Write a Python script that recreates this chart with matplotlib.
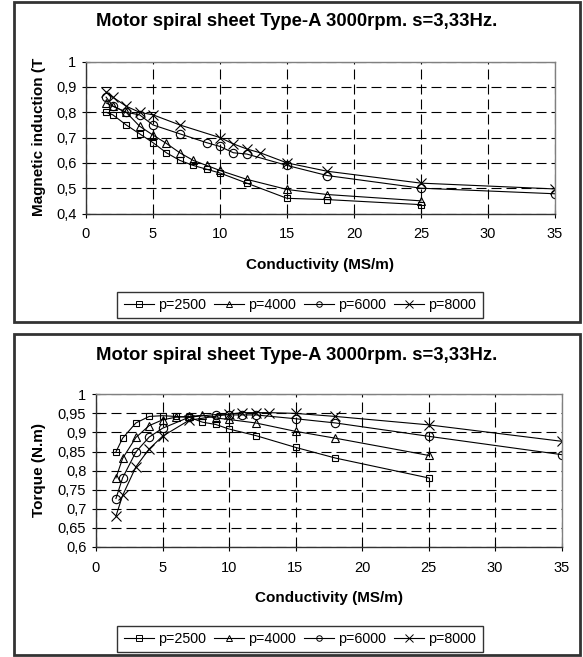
import matplotlib.pyplot as plt
from matplotlib.patches import Rectangle
from matplotlib.lines import Line2D

# ---- data ----
title = 'Motor spiral sheet Type-A 3000rpm. s=3,33Hz.'
labels = ['p=2500', 'p=4000', 'p=6000', 'p=8000']
markers = ['s', '^', 'o', 'x']
msizes = [5, 5.5, 6, 7.5]

# top chart: magnetic induction
b_x_2500 = [1.5, 2, 3, 4, 5, 6, 7, 8, 9, 10, 12, 15, 18, 25]
b_y_2500 = [0.80, 0.79, 0.75, 0.715, 0.68, 0.64, 0.61, 0.59, 0.575, 0.56, 0.52, 0.46, 0.455, 0.435]
b_x_4000 = [1.5, 2, 3, 4, 5, 6, 7, 8, 9, 10, 12, 15, 18, 25]
b_y_4000 = [0.837, 0.824, 0.80, 0.745, 0.71, 0.677, 0.64, 0.61, 0.59, 0.57, 0.535, 0.495, 0.475, 0.45]
b_x_6000 = [1.5, 2, 3, 4, 5, 7, 9, 10, 11, 12, 15, 18, 25, 35]
b_y_6000 = [0.86, 0.825, 0.80, 0.79, 0.75, 0.715, 0.68, 0.665, 0.64, 0.635, 0.59, 0.55, 0.50, 0.478]
b_x_8000 = [1.5, 2, 3, 4, 5, 7, 10, 11, 12, 13, 15, 18, 25, 35]
b_y_8000 = [0.88, 0.86, 0.824, 0.80, 0.79, 0.75, 0.70, 0.675, 0.655, 0.64, 0.60, 0.567, 0.52, 0.497]

# bottom chart: torque
t_x_2500 = [1.5, 2, 3, 4, 5, 6, 7, 8, 9, 10, 12, 15, 18, 25]
t_y_2500 = [0.849, 0.885, 0.925, 0.942, 0.944, 0.942, 0.94, 0.927, 0.921, 0.909, 0.892, 0.861, 0.833, 0.781]
t_x_4000 = [1.5, 2, 3, 4, 5, 6, 7, 8, 9, 10, 12, 15, 18, 25]
t_y_4000 = [0.781, 0.832, 0.887, 0.918, 0.933, 0.94, 0.942, 0.945, 0.938, 0.934, 0.925, 0.903, 0.885, 0.84]
t_x_6000 = [1.5, 2, 3, 4, 5, 7, 9, 10, 11, 12, 15, 18, 25, 35]
t_y_6000 = [0.727, 0.781, 0.849, 0.888, 0.911, 0.94, 0.947, 0.946, 0.946, 0.946, 0.936, 0.925, 0.89, 0.842]
t_x_8000 = [1.5, 2, 3, 4, 5, 7, 10, 11, 12, 13, 15, 18, 25, 35]
t_y_8000 = [0.681, 0.735, 0.81, 0.857, 0.89, 0.932, 0.948, 0.952, 0.952, 0.952, 0.95, 0.942, 0.92, 0.877]

plt.rcParams.update({'font.family': ['Liberation Sans', 'DejaVu Sans']})

W, H = 583, 657
fig = plt.figure(figsize=(W / 100, H / 100), dpi=100)


def fx(px):
    return px / W


def fy(py):
    return 1 - py / H


def comma(v):
    return ('%g' % round(v, 2)).replace('.', ',')


def draw_chart(box, ax_px, xs, ys, yticks, ylim, ylabel, ylabel_y, ylabel_va,
               title_y, xlabel_y, legend_y):
    # outer frame round each chart
    x0, y0, x1, y1 = box
    fig.patches.append(Rectangle((fx(x0), fy(y1)), fx(x1 - x0), (y1 - y0) / H,
                                 transform=fig.transFigure, fill=False,
                                 edgecolor='#333333', linewidth=2))
    l, t, r, b = ax_px
    ax = fig.add_axes([fx(l), fy(b), fx(r - l), (b - t) / H])
    for x, y, m, ms, lab in zip(xs, ys, markers, msizes, labels):
        ax.plot(x, y, color='black', linewidth=0.8, marker=m, markersize=ms,
                markerfacecolor='none', markeredgecolor='black',
                markeredgewidth=0.8, label=lab)
    ax.set_xlim(0, 35)
    ax.set_ylim(*ylim)
    ax.set_xticks(range(0, 36, 5))
    ax.set_yticks(yticks)
    ax.set_yticklabels([comma(v) for v in yticks])
    ax.grid(True, color='black', linestyle=(0, (9, 4.5)), linewidth=0.8)
    for s in ['top', 'right']:
        ax.spines[s].set_color('#808080')
        ax.spines[s].set_linewidth(1.0)
    for s in ['left', 'bottom']:
        ax.spines[s].set_color('#333333')
        ax.spines[s].set_linewidth(1.0)
    ax.tick_params(direction='inout', length=6, width=0.8, labelsize=10.5)
    ax.tick_params(axis='x', pad=7)
    ax.tick_params(axis='y', pad=4)
    fig.text(fx((x0 + x1) / 2), fy(title_y), title, ha='center', va='center',
             fontsize=13.3, fontweight='bold')
    fig.text(fx((l + r) / 2), fy(xlabel_y), 'Conductivity (MS/m)', ha='center',
             va='center', fontsize=11, fontweight='bold')
    fig.text(fx(39), fy(ylabel_y), ylabel, ha='center', va=ylabel_va,
             rotation=90, fontsize=11, fontweight='bold')
    handles = [Line2D([], [], color='black', linewidth=0.8, marker=m,
                      markersize=(6 if m == 'x' else 4), markerfacecolor='none',
                      markeredgewidth=0.7) for m in markers]
    fig.legend(handles, labels, loc='center', ncol=4,
               bbox_to_anchor=(fx(300), fy(legend_y)), fontsize=10.3,
               frameon=True, fancybox=False, edgecolor='black',
               handlelength=2.1, handletextpad=0.3, columnspacing=0.55,
               borderpad=0.45, borderaxespad=0)
    return ax


draw_chart((14, 2, 580, 322), (86, 61.7, 555, 213.5),
           [b_x_2500, b_x_4000, b_x_6000, b_x_8000],
           [b_y_2500, b_y_4000, b_y_6000, b_y_8000],
           [0.4, 0.5, 0.6, 0.7, 0.8, 0.9, 1.0], (0.4, 1.0),
           'Magnetic induction (T', 58, 'top', 22, 265, 305)

draw_chart((14, 334, 580, 655), (96, 394.3, 561.5, 547),
           [t_x_2500, t_x_4000, t_x_6000, t_x_8000],
           [t_y_2500, t_y_4000, t_y_6000, t_y_8000],
           [0.6, 0.65, 0.7, 0.75, 0.8, 0.85, 0.9, 0.95, 1.0], (0.6, 1.0),
           'Torque (N.m)', 470, 'center', 355, 598, 639)

fig.savefig('out.png', dpi=100)
